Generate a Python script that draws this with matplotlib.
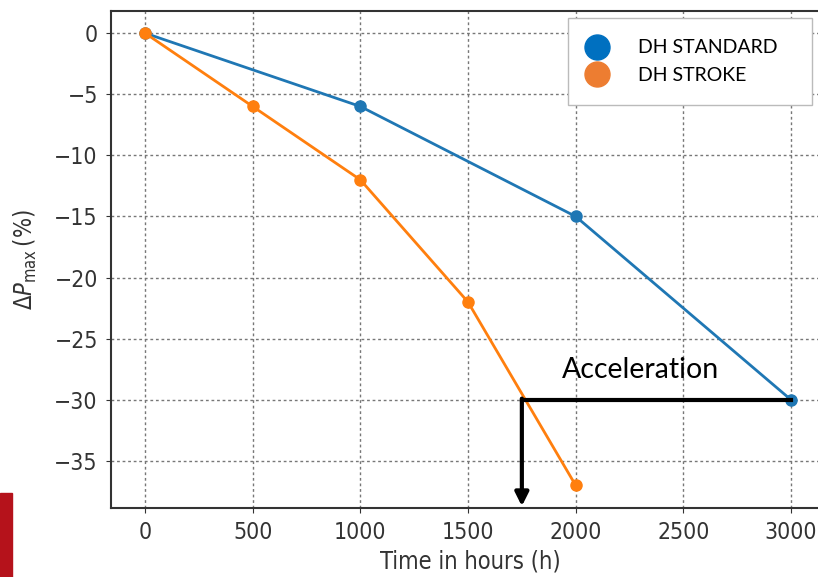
import matplotlib.pyplot as plt
from matplotlib.lines import Line2D
from matplotlib.patches import Rectangle

# data
std_hours = [0, 1000, 2000, 3000]
std_dp = [0, -6, -15, -30]
stroke_hours = [0, 500, 1000, 1500, 2000]
stroke_dp = [0, -6, -12, -22, -37]
series_labels = ['DH STANDARD', 'DH STROKE']
accel_start = 1750   # where the stroke curve hits -30 %
accel_level = -30
accel_end = 3000

plt.rcParams['font.stretch'] = 'condensed'
plt.rcParams['text.color'] = '#333333'
plt.rcParams['axes.labelcolor'] = '#333333'
plt.rcParams['xtick.labelcolor'] = '#333333'
plt.rcParams['ytick.labelcolor'] = '#333333'

fig = plt.figure(figsize=(8.18, 5.77), dpi=100)
# axes run past the right edge, the reference is cropped there
ax = fig.add_axes([111 / 818, 69 / 577, 719 / 818, 497.5 / 577])

ax.plot(std_hours, std_dp, marker='o', markersize=8, lw=2, color='#1f77b4')
ax.plot(stroke_hours, stroke_dp, marker='o', markersize=8, lw=2, color='#ff7f0e')

ax.grid(True, linestyle=(0, (2, 2)), color='#777777', lw=1)
ax.set_xlim(-158, 3181)
ax.set_ylim(-38.85, 1.85)
ax.set_xticks([0, 500, 1000, 1500, 2000, 2500, 3000])
ax.set_yticks([0, -5, -10, -15, -20, -25, -30, -35])
ax.tick_params(labelsize=16.5, pad=6, color='#333333')
ax.set_xlabel('Time in hours (h)', fontsize=17, labelpad=4)
ax.set_ylabel(r'$\Delta P_{\mathrm{max}}\,(\%)$', fontsize=17, labelpad=11)
for s in ax.spines.values():
    s.set_color('#333333')
    s.set_linewidth(1.5)
ax.spines['right'].set_visible(False)

# acceleration marker
ax.plot([accel_start, accel_end], [accel_level, accel_level], color='black', lw=3, zorder=4)
ax.annotate('', xy=(accel_start, -38.7), xytext=(accel_start, accel_level + 0.1),
            arrowprops=dict(arrowstyle='-|>', color='black', lw=3, mutation_scale=20,
                            shrinkA=0, shrinkB=0), zorder=4)
ax.text(1935, -27.6, 'Acceleration', fontsize=20.5, family='Lato', stretch='normal',
        color='black', va='center', ha='left')

handles = [Line2D([], [], ls='none', marker='o', markersize=18, color='#0070C0'),
           Line2D([], [], ls='none', marker='o', markersize=18, color='#ED7D31')]
leg = ax.legend(handles, series_labels, loc='upper left', mode='expand',
                bbox_to_anchor=(568 / 818, 1 - 104 / 577, 244 / 818, 86 / 577),
                bbox_transform=fig.transFigure,
                prop={'family': 'Lato', 'size': 14, 'stretch': 'normal'}, fancybox=False,
                framealpha=1, edgecolor='#bbbbbb', handlelength=0.8, handletextpad=1.7,
                borderpad=1.1, labelspacing=0.55, borderaxespad=0)
for t in leg.get_texts():
    t.set_color('black')

# red strip at the bottom-left corner of the slide
fig.patches.append(Rectangle((0, 0), 12 / 818, 84 / 577, transform=fig.transFigure,
                             color='#B5121B', zorder=5))

fig.savefig('out.png', dpi=100)
